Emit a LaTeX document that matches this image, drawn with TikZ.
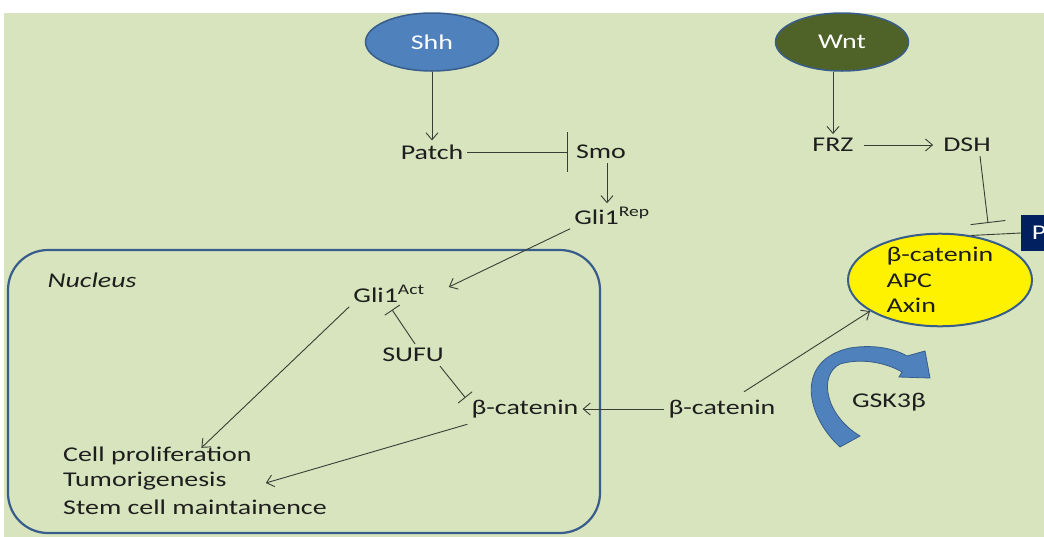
\documentclass[tikz,border=0pt]{standalone}
\usepackage{fontspec}
\setmainfont{Carlito}[FakeStretch=1.33]
\usetikzlibrary{shapes.geometric,arrows.meta}

\definecolor{bggreen}{HTML}{D7E4BD}
\definecolor{shhblue}{HTML}{4F81BD}
\definecolor{edgeblue}{HTML}{385D8A}
\definecolor{wntolive}{HTML}{4F6228}
\definecolor{pnavy}{HTML}{002060}
\definecolor{linegray}{HTML}{3A3D35}
\definecolor{txtgray}{HTML}{1E1E1E}

\tikzset{
    lbl/.style={inner sep=4pt, text=txtgray},
    ligand/.style={ellipse, draw=edgeblue, line width=1.5pt, text=white,
        minimum width=133pt, minimum height=58pt},
    act/.style={draw=linegray, line width=0.9pt,
        -{Straight Barb[length=7pt,width=12pt]}},
    inh/.style={draw=linegray, line width=0.9pt, -{Bar[width=#1]}},
    inh/.default=18pt
}

\begin{document}
\begin{tikzpicture}[x=1pt,y=-1pt,
        every node/.style={font=\fontsize{21}{25.5}\selectfont}]
    \useasboundingbox (0,0) rectangle (1044,536);
    \clip (0,0) rectangle (1044,536);
    \fill[bggreen] (4,13) rectangle (1044,540);

    % nucleus
    \draw[edgeblue, line width=2.2pt, rounded corners=40pt] (8,250) rectangle (600,533);
    \node[lbl, font=\fontsize{21}{25.5}\selectfont\itshape] (nuc) at (92,280) {Nucleus};

    % hedgehog branch
    \node[ligand, fill=shhblue] (shh) at (432,42) {Shh};
    \node[lbl] (patch) at (432,152) {Patch};
    \node[lbl] (smo) at (601,152) {Smo};
    \node[lbl] (grep) at (612,216) {Gli1\textsuperscript{Rep}};
    \node[lbl] (gact) at (389,294) {Gli1\textsuperscript{Act}};
    \node[lbl] (sufu) at (413,355) {SUFU};
    \node[lbl] (binn) at (525,409) {β-catenin};
    \node[lbl, anchor=west] (cellp) at (59,456) {Cell proliferation};
    \node[lbl, anchor=west] (tumor) at (59,481) {Tumorigenesis};
    \node[lbl, anchor=west] (stemc) at (59,507) {Stem cell maintainence};

    % wnt branch
    \node[ligand, fill=wntolive] (wnt) at (842,42) {Wnt};
    \node[lbl] (frz) at (833,145) {FRZ};
    \node[lbl] (dsh) at (967,145) {DSH};
    \node[ellipse, draw=edgeblue, line width=2pt, fill=yellow, align=left,
        minimum width=184pt, minimum height=85pt, inner sep=0pt, text=txtgray]
        (cplx) at (940,280) {β-catenin\\APC\\Axin};
    \node[fill=pnavy, text=white, minimum size=36pt, inner sep=0pt] (pbox) at (1039,233) {P};
    \node[lbl] (bout) at (722,409) {β-catenin};
    \node[lbl] (gsk) at (889,402) {GSK3β};
    \coordinate (dshT) at (988,223);

    \draw[act] (shh) -- (patch);
    \draw[inh=40pt] (patch.east) -- ([xshift=-4pt]smo.west);
    \draw[act] ([xshift=6pt]smo.south) -- ([xshift=-5pt]grep.north);
    \draw[act] (grep.south west) -- ([xshift=20pt,yshift=7pt]gact.east);
    \draw[inh] ([xshift=2pt]sufu.north) -- ([xshift=3pt,yshift=-3pt]gact.south);
    \draw[inh] ([xshift=-8pt]sufu.south east) -- ([xshift=-2pt,yshift=-2pt]binn.north west);
    \draw[act] (gact.south west) -- ([xshift=44pt,yshift=-5pt]cellp.north);
    \draw[act] ([yshift=-2pt]binn.south west) -- ([xshift=35pt,yshift=-2pt]tumor.east);
    \draw[act] (bout.west) -- (binn.east);

    \draw[act] (frz.north |- wnt.south) -- (frz.north);
    \draw[act, shorten <=6pt, shorten >=6pt] (frz.east) -- (dsh.west);
    \draw[inh=35pt] ([xshift=13pt]dsh.south) -- (dshT);
    \draw[linegray, line width=0.9pt] (pbox.west) -- (cplx.55);
    \draw[act] ([xshift=22pt,yshift=4pt]bout.north) -- (cplx.204);

    % GSK3b bent arrow
    \draw[edgeblue, fill=shhblue, line width=0.8pt]
        (840,447) .. controls (805,415) and (795,360) .. (850,348)
        .. controls (875,344) and (895,349) .. (907,356)
        -- (925,351) -- (930,378) -- (899,377) -- (902,372)
        .. controls (885,362) and (860,358) .. (840,364)
        .. controls (818,375) and (825,415) .. (860,436) -- cycle;
\end{tikzpicture}
\end{document}
